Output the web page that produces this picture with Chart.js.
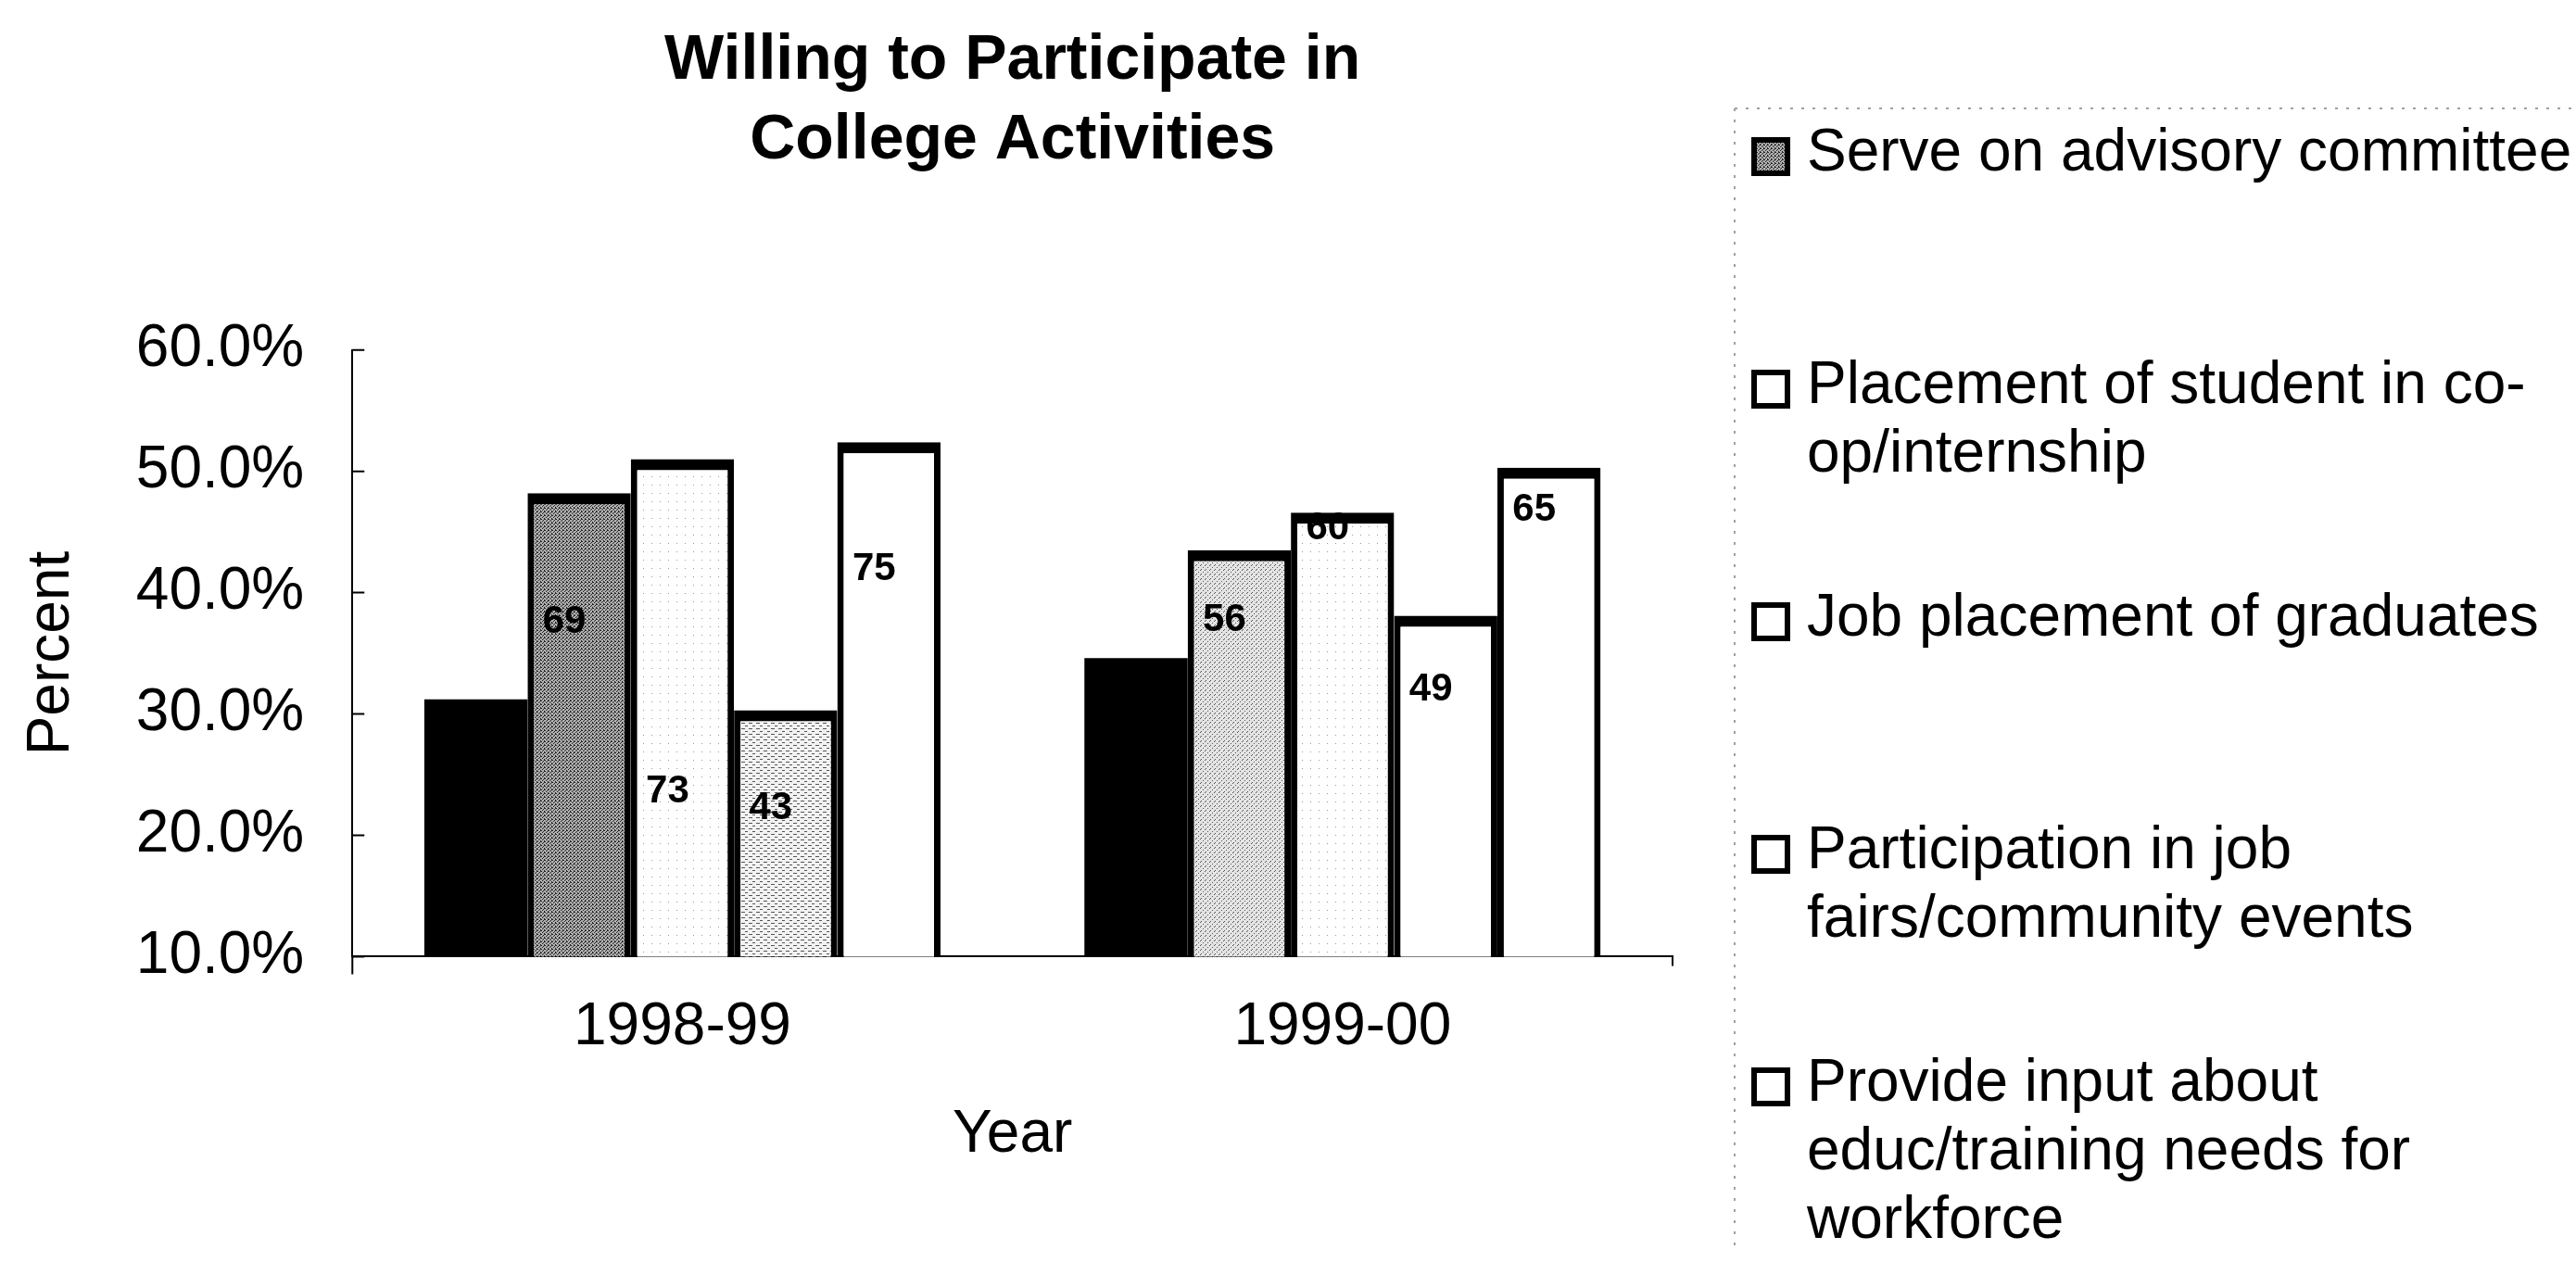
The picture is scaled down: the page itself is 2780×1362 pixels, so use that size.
<!DOCTYPE html>
<html lang="en">
  <head>
    <meta charset="UTF-8" />
    <title>Willing to Participate in College Activities</title>
    <script src="https://cdn.jsdelivr.net/npm/chart.js@4.4.0/dist/chart.umd.min.js"></script>
    <style>
      body { margin: 0; background: #fff; }
      #contenedor { width: 2780px; height: 1362px; }
    </style>
  </head>
  <body>
    <div id="contenedor">
      <canvas id="grafico" width="2780" height="1362"></canvas>
    </div>
  </body>
  <script>
    // datos (porcentaje)
    var years = ["1998-99", "1999-00"];
    var serve = [31.2, 34.6];
    var placement = [48.2, 43.5];
    var jobPlacement = [51.0, 46.6];
    var jobFairs = [30.3, 38.1];
    var provideInput = [52.4, 50.3];

    // numeros escritos sobre las barras y a que altura (en %) aparecen
    var placementCount = [69, 56];
    var jobPlacementCount = [73, 60];
    var jobFairsCount = [43, 49];
    var provideInputCount = [75, 65];
    var placementLabelAt = [37.6, 37.7];
    var jobPlacementLabelAt = [23.6, 45.3];
    var jobFairsLabelAt = [22.2, 32.0];
    var provideInputLabelAt = [41.9, 46.8];

    var yTicks = [10, 20, 30, 40, 50, 60];

    var legendLines = [
      ["Serve on advisory committee"],
      ["Placement of student in co-", "op/internship"],
      ["Job placement of graduates"],
      ["Participation in job", "fairs/community events"],
      ["Provide input about", "educ/training needs for", "workforce"],
    ];

    var fuente = "'Liberation Sans', Arial, sans-serif";
    Chart.defaults.font.family = fuente;
    Chart.defaults.color = "#000";

    // tramas tipo punteado
    function trama(fondo, tinta, puntos, w, h) {
      var c = document.createElement("canvas");
      c.width = w;
      c.height = h;
      var g = c.getContext("2d");
      g.fillStyle = fondo;
      g.fillRect(0, 0, w, h);
      g.fillStyle = tinta;
      puntos.forEach(function (p) {
        g.fillRect(p[0], p[1], p[2] || 1, 1);
      });
      return document.createElement("canvas").getContext("2d").createPattern(c, "repeat");
    }
    var grisOscuro = trama("#b0b0b0", "#222", [[0, 0], [2, 1], [1, 2], [3, 3], [3, 0]], 4, 4);
    var grisClaro = trama("#e4e4e4", "#555", [[0, 0], [3, 2], [1, 4]], 5, 5);
    var rayado = trama("#f2f2f2", "#555", [[0, 0, 4], [4, 3, 3]], 8, 6);
    var punteado = trama("#ffffff", "#999", [[1, 1]], 9, 9);

    var borde = { top: 12, left: 7, right: 7, bottom: 12 };

    var etiquetas = {
      id: "etiquetas",
      afterDatasetsDraw(chart) {
        const ctx = chart.ctx;
        const y = chart.scales.y;
        const area = chart.chartArea;
        ctx.save();
        // marcas cortas hacia dentro en el eje y, y el eje baja un poco
        ctx.strokeStyle = "#000";
        ctx.lineWidth = 2;
        ctx.beginPath();
        ctx.moveTo(area.left, area.bottom);
        ctx.lineTo(area.left, area.bottom + 19);
        yTicks.forEach(function (t) {
          const py = y.getPixelForValue(t);
          ctx.moveTo(area.left, py);
          ctx.lineTo(area.left + 13, py);
        });
        ctx.moveTo(area.right, area.bottom);
        ctx.lineTo(area.right, area.bottom + 10);
        ctx.stroke();
        ctx.font = "bold 42px " + fuente;
        ctx.fillStyle = "#000";
        ctx.textAlign = "center";
        ctx.textBaseline = "middle";
        chart.data.datasets.forEach(function (ds, i) {
          if (!ds.counts) return;
          chart.getDatasetMeta(i).data.forEach(function (bar, j) {
            ctx.fillText(ds.counts[j], bar.x - 16, y.getPixelForValue(ds.labelAt[j]));
          });
        });
        ctx.restore();
      },
    };

    var leyenda = {
      id: "leyenda",
      afterDraw(chart) {
        const ctx = chart.ctx;
        ctx.save();
        ctx.strokeStyle = "#a0a0a0";
        ctx.lineWidth = 2;
        ctx.setLineDash([3, 9]);
        ctx.beginPath();
        ctx.moveTo(1872, 117);
        ctx.lineTo(2780, 117);
        ctx.moveTo(1872, 117);
        ctx.lineTo(1872, 1345);
        ctx.stroke();
        ctx.setLineDash([]);
        ctx.font = "64px " + fuente;
        ctx.textAlign = "left";
        ctx.textBaseline = "alphabetic";
        legendLines.forEach(function (lineas, i) {
          const y0 = 161 + 251 * i;
          ctx.fillStyle = i == 0 ? grisOscuro : "#fff";
          ctx.fillRect(1890, y0 - 13, 42, 42);
          ctx.strokeStyle = "#000";
          ctx.lineWidth = 6;
          ctx.strokeRect(1893, y0 - 10, 36, 36);
          ctx.fillStyle = "#000";
          lineas.forEach(function (t, k) {
            ctx.fillText(t, 1950, y0 + 23 + 74 * k);
          });
        });
        ctx.restore();
      },
    };

    new Chart(document.getElementById("grafico"), {
      type: "bar",
      data: {
        labels: years,
        datasets: [
          {
            label: legendLines[0].join(" "),
            data: serve,
            backgroundColor: "#000",
            borderColor: "#000",
            borderWidth: 0,
          },
          {
            label: legendLines[1].join(" "),
            data: placement,
            backgroundColor: [grisOscuro, grisClaro],
            borderColor: "#000",
            borderWidth: borde,
            borderSkipped: false,
            counts: placementCount,
            labelAt: placementLabelAt,
          },
          {
            label: legendLines[2].join(" "),
            data: jobPlacement,
            backgroundColor: punteado,
            borderColor: "#000",
            borderWidth: borde,
            borderSkipped: false,
            counts: jobPlacementCount,
            labelAt: jobPlacementLabelAt,
          },
          {
            label: legendLines[3].join(" "),
            data: jobFairs,
            backgroundColor: [rayado, "#fff"],
            borderColor: "#000",
            borderWidth: borde,
            borderSkipped: false,
            counts: jobFairsCount,
            labelAt: jobFairsLabelAt,
          },
          {
            label: legendLines[4].join(" "),
            data: provideInput,
            backgroundColor: "#fff",
            borderColor: "#000",
            borderWidth: borde,
            borderSkipped: false,
            counts: provideInputCount,
            labelAt: provideInputLabelAt,
          },
        ],
      },
      options: {
        responsive: false,
        animation: false,
        devicePixelRatio: 1,
        categoryPercentage: 0.782,
        barPercentage: 1.0,
        layout: { padding: { left: 0, right: 975, top: 0, bottom: 98 } },
        plugins: {
          legend: { display: false },
          tooltip: { enabled: false },
          title: {
            display: true,
            fullSize: false,
            text: ["Willing to Participate in", "College Activities"],
            color: "#000",
            font: { size: 68, weight: "bold", lineHeight: 1.27 },
            padding: { top: 23, bottom: 182 },
          },
        },
        scales: {
          x: {
            grid: { display: false, drawTicks: false },
            border: { display: true, color: "#000", width: 2 },
            ticks: { font: { size: 64 }, padding: 39, color: "#000" },
            title: {
              display: true,
              text: "Year",
              font: { size: 64 },
              color: "#000",
              padding: { top: 0, bottom: 0 },
            },
          },
          y: {
            min: 10,
            max: 60,
            grid: { display: false, drawTicks: false },
            border: { display: true, color: "#000", width: 2 },
            ticks: {
              stepSize: 10,
              font: { size: 64 },
              padding: 52,
              color: "#000",
              callback: function (v) {
                return v.toFixed(1) + "%";
              },
            },
            title: {
              display: true,
              text: "Percent",
              font: { size: 64 },
              color: "#000",
              padding: { top: 18, bottom: 0 },
            },
          },
        },
      },
      plugins: [etiquetas, leyenda],
    });
  </script>
</html>
